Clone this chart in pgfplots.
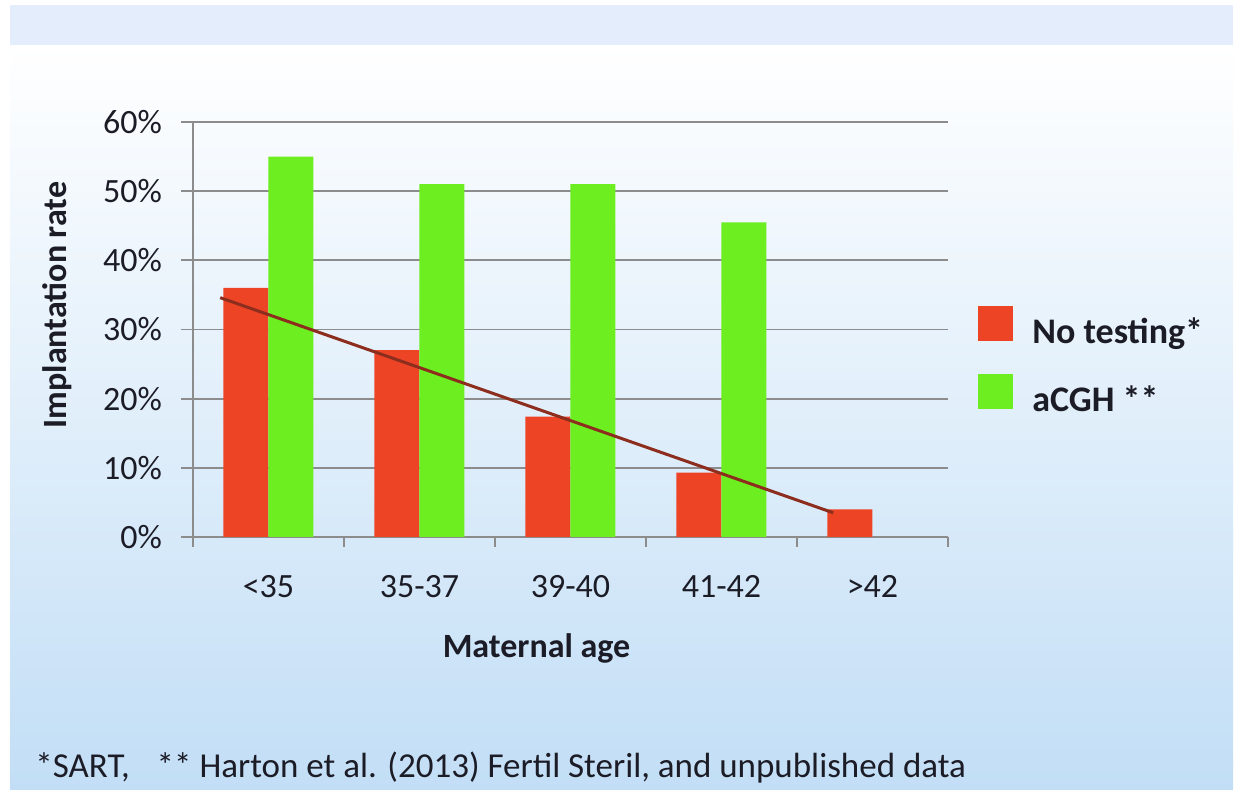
\documentclass[border=0pt]{standalone}
\usepackage{fontspec}
\setmainfont{Carlito}
\usepackage{pgfplots}
\pgfplotsset{compat=1.18}

\definecolor{barred}{RGB}{238,68,38}
\definecolor{bargreen}{RGB}{108,238,32}
\definecolor{trend}{RGB}{140,45,30}
\definecolor{gridgray}{RGB}{140,140,140}
\definecolor{txt}{RGB}{28,28,38}
\definecolor{bgtop}{RGB}{227,237,251}
\definecolor{bgbot}{RGB}{194,222,246}

\begin{document}
\begin{tikzpicture}[x=1pt,y=1pt]
% slide background
\fill[white] (0,0) rectangle (619.5,395);
\shade[top color=white, bottom color=bgbot] (5,0) rectangle (616.5,372.5);
\fill[bgtop] (5,372.5) rectangle (616.5,392.5);

\begin{axis}[
  at={(96.5pt,126.5pt)}, anchor=south west,
  width=377.5pt, height=207.5pt, scale only axis,
  xmin=-0.5, xmax=4.5, ymin=0, ymax=60,
  axis x line*=bottom, axis y line*=left,
  axis line style={gridgray, line width=0.9pt},
  xtick={0,1,2,3,4},
  xticklabels={<35, 35-37, 39-40, 41-42, >42},
  minor xtick={-0.5,0.5,1.5,2.5,3.5,4.5},
  xtick style={draw=none},
  minor x tick style={draw=gridgray, line width=0.9pt},
  ytick={0,10,...,60},
  yticklabel={\pgfmathprintnumber{\tick}\%},
  ytick style={draw=gridgray, line width=0.9pt},
  tick align=outside,
  major tick length=6pt, minor tick length=5pt,
  ymajorgrids,
  grid style={gridgray, line width=0.9pt},
  /pgf/number format/assume math mode=true,
  ticklabel style={font=\fontsize{17}{20}\selectfont, text=txt},
  yticklabel style={xshift=-6pt},
  xticklabel style={yshift=-9.5pt},
  xlabel={Maternal age},
  xlabel style={at={(axis description cs:0.455,-0.2675)}, anchor=center,
    font=\bfseries\fontsize{17}{20}\selectfont, text=txt},
  ylabel={Implantation rate},
  ylabel style={at={(axis description cs:-0.18,0.559)}, anchor=center,
    font=\bfseries\fontsize{17}{20}\selectfont, text=txt},
  legend cell align=left,
  legend style={at={(axis description cs:1.0397,0.557)}, anchor=north west,
    draw=none, fill=none, inner sep=0pt, row sep=11.5pt,
    font=\bfseries\fontsize{18}{21}\selectfont, text=txt,
    nodes={inner sep=0pt, text height=12pt, text depth=4pt},
    /tikz/every odd column/.append style={column sep=9.5pt}},
]
\addplot[ybar, bar width=22.5pt, bar shift=-11.25pt, fill=barred, draw=none,
  legend image code/.code={\path[fill=barred] (0pt,-3pt) rectangle (17.5pt,14.5pt);}]
  coordinates {(0,36) (1,27) (2,17.4) (3,9.3) (4,4)};
\addlegendentry{No testing*}
\addplot[ybar, bar width=22.5pt, bar shift=11.25pt, fill=bargreen, draw=none,
  legend image code/.code={\path[fill=bargreen] (0pt,-3pt) rectangle (17.5pt,14.5pt);}]
  coordinates {(0,55) (1,51) (2,51) (3,45.5)};
\addlegendentry{aCGH **}
% declining trend across the no-testing bars
\addplot[trend, line width=1.5pt, sharp plot, forget plot]
  coordinates {(-0.32,34.6) (3.74,3.5)};
\end{axis}

\node[anchor=base west, inner sep=0pt, font=\fontsize{17.5}{20}\selectfont, text=txt]
  at (17.5,6) {*SART,\hspace{13.5pt}** Harton et al. (2013) Fertil Steril, and unpublished data};
\end{tikzpicture}
\end{document}
